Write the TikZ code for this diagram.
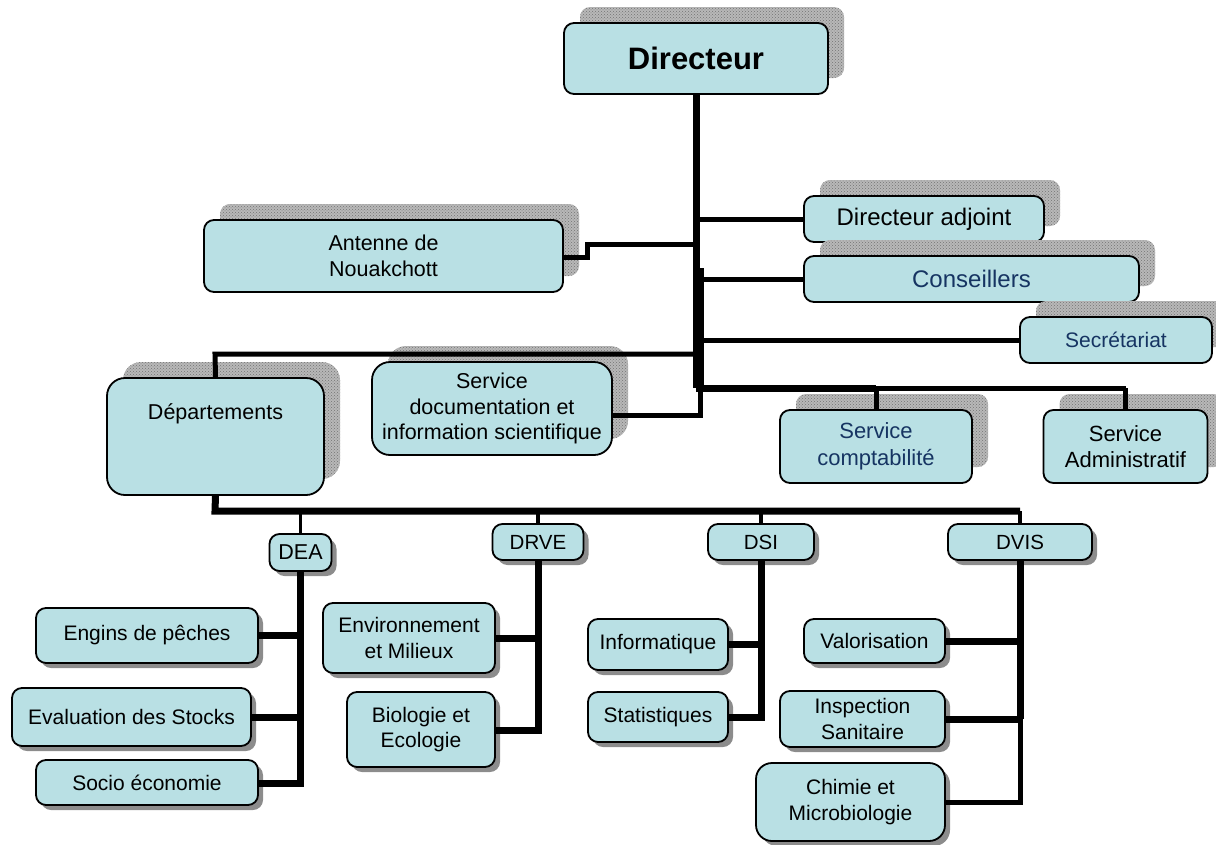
\documentclass[tikz,border=0pt]{standalone}
\usepackage{fontspec}
\setmainfont{Liberation Sans}
\usetikzlibrary{shadows,patterns}
\definecolor{boxfill}{RGB}{185,224,228}
\definecolor{dblue}{RGB}{22,52,98}
\definecolor{shgray}{RGB}{184,184,184}
\newcommand{\fs}[1]{\fontsize{#1}{\dimexpr#1pt*6/5\relax}\selectfont}
\tikzset{
  box/.style={draw=black, line width=1.8pt, fill=boxfill, rounded corners=10pt,
    inner sep=0pt, align=center, font=\fs{21.5}},
  upsh/.style={general shadow={fill=shgray, shadow xshift=16pt, shadow yshift=16pt},
    general shadow={pattern=crosshatch dots, pattern color=black!55, shadow xshift=16pt, shadow yshift=16pt}},
  dnsh/.style={general shadow={fill=black!45, shadow xshift=5pt, shadow yshift=-5pt}},
  thickline/.style={line width=7pt},
  medline/.style={line width=5pt},
  thinline/.style={line width=3.5pt},
}
\begin{document}
\begin{tikzpicture}[x=1pt,y=-1pt]
\useasboundingbox (0,0) rectangle (1216,844);
% ---- upper boxes ----
\node[box, upsh, minimum width=264pt, minimum height=71pt, font=\bfseries\fs{31}] (dir) at (696,58.5) {Directeur};
\node[box, upsh, minimum width=240pt, minimum height=46pt, font=\fs{24}] (dadj) at (924,219) {Directeur adjoint};
\node[box, upsh, minimum width=335pt, minimum height=46pt, font=\fs{24}, text=dblue] (cons) at (971.5,279) {Conseillers};
\node[box, upsh, minimum width=192pt, minimum height=46pt, font=\fs{21}, text=dblue] (secr) at (1116,340) {Secrétariat};
\node[box, upsh, minimum width=359pt, minimum height=72pt] (ant) at (383.5,256) {Antenne de\\Nouakchott};
\node[box, upsh, rounded corners=18pt, minimum width=217pt, minimum height=117pt] (dep) at (215.5,436.5) {\raisebox{17pt}[0pt][0pt]{Départements}};
\node[box, upsh, rounded corners=18pt, minimum width=240pt, minimum height=93pt] (sdoc) at (492,408.5) {Service\\documentation et\\information scientifique};
\node[box, upsh, minimum width=192pt, minimum height=73pt, text=dblue, font=\fs{22}] (scomp) at (876,446.5) {Service\\comptabilité};
\node[box, upsh, minimum width=164pt, minimum height=73pt, font=\fs{22}] (sadm) at (1125.5,446.5) {Service\\Administratif};
% ---- department heads ----
\node[box, dnsh, minimum width=62pt, minimum height=37pt, font=\fs{21.5}] (dea) at (300.5,552.5) {DEA};
\node[box, dnsh, minimum width=91pt, minimum height=36pt, font=\fs{20.5}] (drve) at (538,542) {DRVE};
\node[box, dnsh, minimum width=106pt, minimum height=36pt, font=\fs{20.5}] (dsi) at (761,542) {DSI};
\node[box, dnsh, minimum width=144pt, minimum height=36pt, font=\fs{20.5}] (dvis) at (1020,542) {DVIS};
% ---- sub units ----
\node[box, dnsh, minimum width=222pt, minimum height=55pt, font=\fs{21}] (eng) at (147,635.5) {Engins de pêches};
\node[box, dnsh, minimum width=239pt, minimum height=58pt, font=\fs{21}] (eval) at (131.5,717) {Evaluation des Stocks};
\node[box, dnsh, minimum width=222pt, minimum height=45pt, font=\fs{21}] (socio) at (147,782.5) {Socio économie};
\node[box, dnsh, minimum width=172pt, minimum height=70pt, font=\fs{21}] (env) at (409,638) {Environnement\\et Milieux};
\node[box, dnsh, minimum width=148pt, minimum height=75pt, font=\fs{21}] (bio) at (421,729.5) {Biologie et\\Ecologie};
\node[box, dnsh, minimum width=140pt, minimum height=51pt, font=\fs{21}] (info) at (658,644.5) {Informatique};
\node[box, dnsh, minimum width=140pt, minimum height=50pt, font=\fs{21}] (stat) at (658,717) {Statistiques};
\node[box, dnsh, minimum width=141pt, minimum height=44pt, font=\fs{21}] (valo) at (874.5,641) {Valorisation};
\node[box, dnsh, minimum width=165pt, minimum height=56pt, font=\fs{21}] (insp) at (862.5,719) {Inspection\\Sanitaire};
\node[box, dnsh, rounded corners=16pt, minimum width=189pt, minimum height=78pt, font=\fs{21}] (chim) at (850.5,802) {Chimie et\\Microbiologie};
% ---- junction coordinates ----
\coordinate (tb) at (696,388);
\coordinate (t2) at (700,268);
\coordinate (antj) at (587,244);
\coordinate (depj) at (215,354);
\coordinate (botj) at (215,511);
% ---- connectors ----
\draw[thickline] (dir.south) -- (tb);
\draw[thickline] (t2) -- (tb -| t2);
\draw[medline] (dadj.west) -- (dadj.west -| tb);
\draw[medline] (ant.east |- 0,257) -- (antj |- 0,257) -- (antj) -- (antj -| tb);
\draw[medline] (cons.west) -- (cons.west -| t2);
\draw[medline] (secr.west) -- (secr.west -| t2);
\draw[medline] (dep.north) -- (depj) -- (depj -| tb);
\draw[medline] (sdoc.east |- 0,415) -- (t2 |- 0,415) -- (tb -| t2);
\draw[thickline] (tb) -- (tb -| scomp.north);
\draw[medline] (tb -| scomp.north) -- (tb -| sadm.north);
\draw[medline] (tb -| scomp.north) -- (scomp.north);
\draw[medline] (tb -| sadm.north) -- (sadm.north);
\draw[thickline] (dep.south) -- (botj) -- (botj -| dvis.north);
\draw[thinline] (botj -| dea.north) -- (dea.north);
\draw[thinline] (botj -| drve.north) -- (drve.north);
\draw[thinline] (botj -| dsi.north) -- (dsi.north);
\draw[thinline] (botj -| dvis.north) -- (dvis.north);
% DEA
\draw[thickline] (dea.south) -- (dea.south |- 0,783) -- (socio.east |- 0,783);
\draw[thickline] (eng.east) -- (eng.east -| dea.south);
\draw[thickline] (eval.east) -- (eval.east -| dea.south);
% DRVE
\draw[thickline] (drve.south) -- (drve.south |- 0,730) -- (bio.east |- 0,730);
\draw[thickline] (env.east) -- (env.east -| drve.south);
% DSI
\draw[thickline] (dsi.south) -- (dsi.south |- stat.east) -- (stat.east);
\draw[thickline] (info.east) -- (info.east -| dsi.south);
% DVIS
\draw[thickline] (dvis.south) -- (dvis.south |- insp.east);
\draw[medline] (dvis.south |- insp.east) -- (dvis.south |- chim.east) -- (chim.east);
\draw[thickline] (valo.east) -- (valo.east -| dvis.south);
\draw[thickline] (insp.east) -- (insp.east -| dvis.south);
\end{tikzpicture}
\end{document}
